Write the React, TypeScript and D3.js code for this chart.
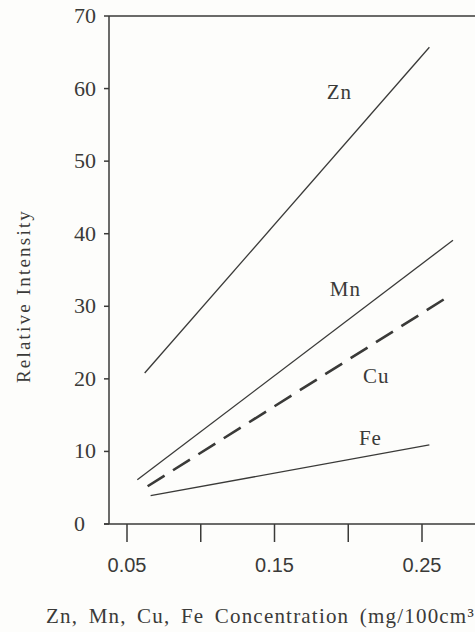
import React from "react";
import { scaleLinear, line } from "d3";

// values
const seriesNames = ["Zn", "Mn", "Cu", "Fe"];
const znLine = [
  [0.062, 20.8],
  [0.255, 65.7]
];
const mnLine = [
  [0.057, 6.1],
  [0.271, 39.1]
];
const cuLine = [
  [0.064, 5.2],
  [0.266, 31.1]
];
const feLine = [
  [0.066, 3.9],
  [0.255, 10.9]
];
const xTicks = [0.05, 0.1, 0.15, 0.2, 0.25];
const xTickLabels = ["0.05", "", "0.15", "", "0.25"];
const yTicks = [0, 10, 20, 30, 40, 50, 60, 70];
// where each curve name sits (data units)
const labelPos = [
  [0.194, 58.5],
  [0.198, 31.4],
  [0.219, 19.4],
  [0.215, 10.9]
];

const ink = "#3a3a38";
const serif = "'Liberation Serif', 'Times New Roman', serif";
const sans = "'Liberation Sans', Arial, sans-serif";

export default function App() {
  const width = 475,
    height = 632;

  const x = scaleLinear().domain([0.05, 0.25]).range([127, 422]);
  const y = scaleLinear().domain([0, 70]).range([524, 16]);
  const x0 = 109;

  const path = line<number[]>()
    .x(d => x(d[0]))
    .y(d => y(d[1]));

  const series = [znLine, mnLine, cuLine, feLine];

  return (
    <svg
      width={width}
      height={height}
      style={{ position: "absolute", left: 0, top: 0, background: "#fdfdfb" }}
    >
      {/* frame: left axis, top line, bottom axis */}
      <line x1={x0} x2={x0} y1={y(70)} y2={y(0)} stroke={ink} strokeWidth={1.5} />
      <line x1={x0} x2={width} y1={y(70)} y2={y(70)} stroke={ink} strokeWidth={1.5} />
      <line x1={104} x2={width} y1={y(0)} y2={y(0)} stroke={ink} strokeWidth={1.5} />

      {yTicks.map(t => (
        <g key={t}>
          <line x1={x0 - 5} x2={x0} y1={y(t)} y2={y(t)} stroke={ink} strokeWidth={1.5} />
          <text
            x={74}
            y={y(t) + 7}
            fontFamily={serif}
            fontSize={22}
            fill={ink}
          >
            {t}
          </text>
        </g>
      ))}

      {xTicks.map((t, i) => (
        <g key={t}>
          <line x1={x(t)} x2={x(t)} y1={y(0)} y2={y(0) + 18} stroke={ink} strokeWidth={1.5} />
          <text
            x={x(t)}
            y={572}
            textAnchor="middle"
            fontFamily={sans}
            fontSize={20}
            fill={ink}
          >
            {xTickLabels[i]}
          </text>
        </g>
      ))}

      {series.map((s, i) => (
        <path
          key={seriesNames[i]}
          d={path(s) || ""}
          fill="none"
          stroke={ink}
          strokeWidth={i === 2 ? 2.6 : 1.3}
          strokeDasharray={i === 2 ? "20 10" : undefined}
        />
      ))}

      {seriesNames.map((n, i) => (
        <text
          key={n}
          x={x(labelPos[i][0])}
          y={y(labelPos[i][1])}
          textAnchor="middle"
          fontFamily={serif}
          fontSize={21}
          letterSpacing={1}
          fill={ink}
        >
          {n}
        </text>
      ))}

      <text
        transform={`translate(30, 296) rotate(-90)`}
        textAnchor="middle"
        fontFamily={serif}
        fontSize={19}
        letterSpacing={2.2}
        fill={ink}
      >
        Relative Intensity
      </text>

      <text
        x={46}
        y={623}
        fontFamily={serif}
        fontSize={21}
        letterSpacing={1.2}
        wordSpacing={4}
        fill={ink}
      >
        Zn, Mn, Cu, Fe Concentration (mg/100cm³)
      </text>
    </svg>
  );
}
